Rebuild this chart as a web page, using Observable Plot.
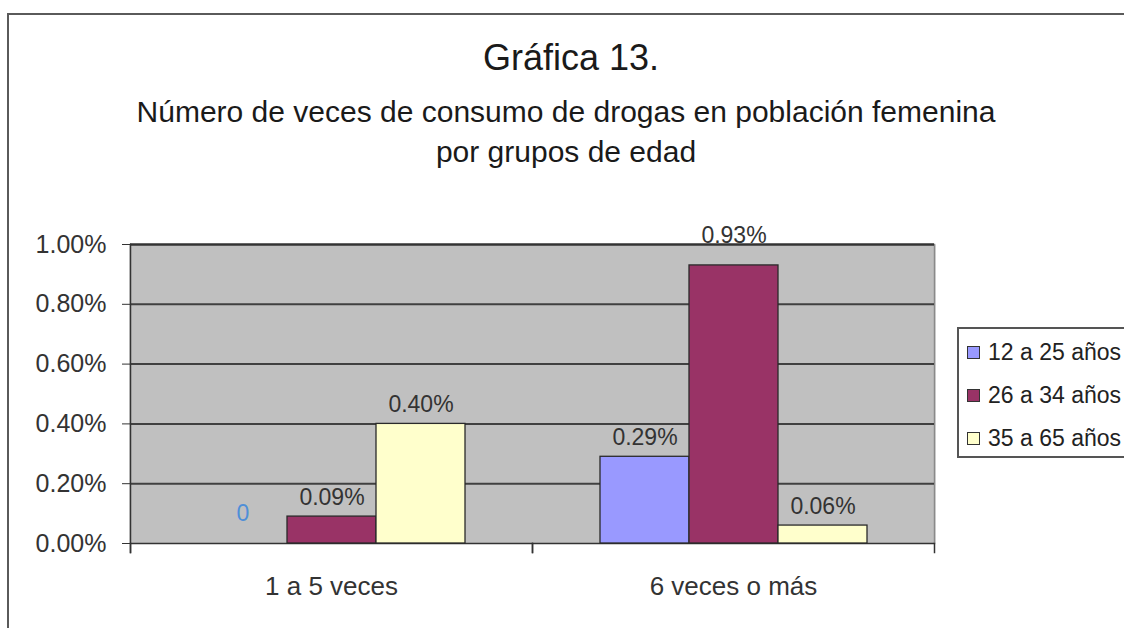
<!DOCTYPE html>
<html>
<head>
<meta charset="utf-8">
<script src="https://cdn.jsdelivr.net/npm/d3@7"></script>
<script src="https://cdn.jsdelivr.net/npm/@observablehq/plot@0.6"></script>
<style>
  body { margin: 0; background: #fff; }
  #wrap { position: relative; width: 1124px; height: 628px; overflow: hidden; background: #fff;
          font-family: "Liberation Sans", Arial, sans-serif; color: #222; }
  #border { position: absolute; left: 7px; top: 13px; width: 1300px; height: 800px;
            border-top: 2px solid #5a5a5a; border-left: 2px solid #5a5a5a; }
  #title { position: absolute; left: 0; width: 1142px; top: 40px; text-align: center;
           font-size: 36px; line-height: 36px; color: #1a1a1a; }
  #subtitle { position: absolute; left: 0; width: 1132px; top: 92px; text-align: center;
              font-size: 30px; line-height: 40px; color: #1a1a1a; }
  #chart { position: absolute; left: 0; top: 200px; }
  #legend { position: absolute; left: 957px; top: 327px; width: 220px; height: 127px;
            border: 2px solid #555; background: #fff; }
  .row { position: absolute; left: 8px; height: 30px; display: flex; align-items: center;
         font-size: 23px; color: #222; white-space: nowrap; }
  .sw { width: 11px; height: 11px; border: 1px solid #333; margin-right: 8px; }
</style>
</head>
<body>
<div id="wrap">
  <div id="border"></div>
  <div id="title">Gráfica 13.</div>
  <div id="subtitle">Número de veces de consumo de drogas en población femenina<br>por grupos de edad</div>
  <div id="chart"></div>
  <div id="legend"></div>
</div>
<script>
// ---- data ----
const categories = ["1 a 5 veces", "6 veces o más"];
const series = ["12 a 25 años", "26 a 34 años", "35 a 65 años"];
const values12a25 = [0, 0.29];   // percent
const values26a34 = [0.09, 0.93];
const values35a65 = [0.40, 0.06];
const seriesColors = ["#9999ff", "#993366", "#ffffcc"];
const yTicks = [0, 0.2, 0.4, 0.6, 0.8, 1.0];

const seriesValues = [values12a25, values26a34, values35a65];
const data = categories.flatMap((c, i) =>
  series.map((s, j) => ({category: c, series: s, value: seriesValues[j][i]}))
);
const fmt = d => d.toFixed(2) + "%";

const chart = Plot.plot({
  width: 1124,
  height: 428,
  marginLeft: 130,
  marginRight: 190,
  marginTop: 44,
  marginBottom: 85,
  style: {fontFamily: "'Liberation Sans', Arial, sans-serif", background: "transparent", overflow: "visible", color: "#333"},
  fx: {domain: categories, padding: 0, label: null, axis: null},
  x: {domain: series, paddingInner: 0, paddingOuter: 0.745, axis: null},
  y: {domain: [0, 1], axis: null},
  color: {domain: series, range: seriesColors},
  marks: [
    Plot.frame({fill: "#c0c0c0", stroke: null, insetLeft: -1, insetRight: -1}),
    Plot.frame({anchor: "right", fx: categories[1], stroke: "#8a8a8a", strokeWidth: 1.5}),
    Plot.ruleY(yTicks.filter(d => d > 0 && d < 1), {stroke: "#404040", strokeWidth: 2}),
    Plot.ruleY([1], {stroke: "#333", strokeWidth: 2.5}),
    Plot.ruleY([0], {stroke: "#333", strokeWidth: 1.5}),
    Plot.frame({anchor: "left", fx: categories[0], stroke: "#333", strokeWidth: 1.5, insetBottom: -9}),
    Plot.frame({anchor: "left", stroke: "#333", strokeWidth: 1.5, insetTop: 299, insetBottom: -9}),
    Plot.frame({anchor: "right", stroke: "#333", strokeWidth: 1.5, insetTop: 299, insetBottom: -9}),
    Plot.axisY(yTicks, {anchor: "left", tickFormat: fmt, tickSize: 8, tickPadding: 16, fontSize: 25, stroke: "#333", fill: "#333", label: null}),
    Plot.axisFx({anchor: "bottom", tickSize: 0, tickPadding: 33, fontSize: 26, fill: "#333", label: null}),
    Plot.barY(data.filter(d => d.value > 0), {fx: "category", x: "series", y: "value", fill: "series", stroke: "#2a2a2a", strokeWidth: 1.3}),
    Plot.text(data.filter(d => d.value > 0 && d.value < 0.85), {fx: "category", x: "series", y: "value", text: d => fmt(d.value), dy: -19, fontSize: 23, fill: "#333"}),
    Plot.text(data.filter(d => d.value >= 0.85), {fx: "category", x: "series", y: "value", text: d => fmt(d.value), dy: -30, fontSize: 23, fill: "#333"}),
    Plot.text(data.filter(d => d.value === 0), {fx: "category", x: "series", y: "value", text: d => "0", dy: -30, fontSize: 23, fill: "#4f8fd8"})
  ]
});
document.getElementById("chart").appendChild(chart);

// ---- legend (HTML) ----
const legend = document.getElementById("legend");
series.forEach((s, i) => {
  const row = document.createElement("div");
  row.className = "row";
  row.style.top = (8 + i * 43) + "px";
  const sw = document.createElement("div");
  sw.className = "sw";
  sw.style.background = seriesColors[i];
  const label = document.createElement("span");
  label.textContent = s;
  row.appendChild(sw);
  row.appendChild(label);
  legend.appendChild(row);
});
</script>
</body>
</html>
